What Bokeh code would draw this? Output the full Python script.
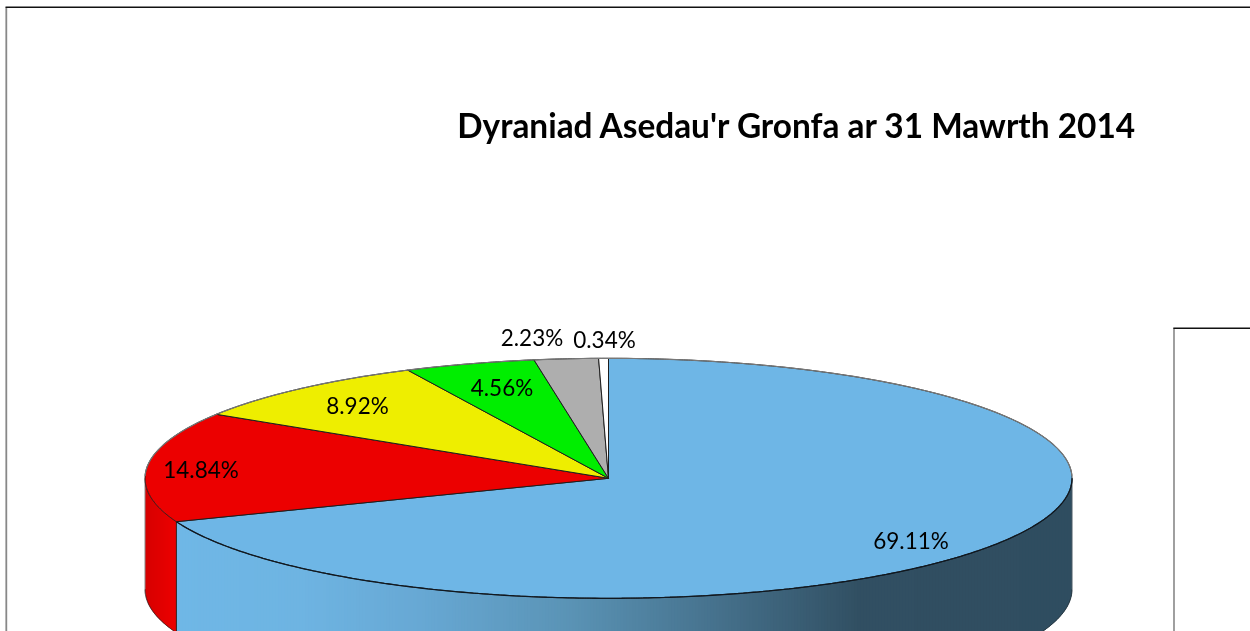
import numpy as np
from bokeh.plotting import figure
from bokeh.models import Range1d
from bokeh.core.properties import value
from bokeh.embed import file_html
from bokeh.resources import INLINE

TITLE = "Dyraniad Asedau'r Gronfa ar 31 Mawrth 2014"
shares = [69.11, 14.84, 8.92, 4.56, 2.23, 0.34]
labels = ["69.11%", "14.84%", "8.92%", "4.56%", "2.23%", "0.34%"]
colors = ["#6EB6E6", "#EC0000", "#EEEE00", "#00EE00", "#AEAEAE", "#FFFFFF"]
label_x = [910.5, 200.5, 357, 501.5, 531.5, 604]
label_y = [540, 469, 404.5, 387, 337, 338.5]

W, H = 1250, 631
CX, CY, RX, RY, DEPTH = 608.0, 477.8, 463.5, 120.0, 111.0
FONT = "Lato"

p = figure(width=W, height=H, output_backend="svg", toolbar_location=None,
           x_range=Range1d(0, W), y_range=Range1d(H, 0), min_border=0,
           outline_line_color=None, background_fill_color="white")
p.axis.visible = False
p.grid.visible = False
p.styles = {"position": "fixed", "left": "0px", "top": "0px"}


def pt(theta):
    return CX + RX * np.sin(theta), CY - RY * np.cos(theta)


edges = np.cumsum([0.0] + shares) / sum(shares) * 2 * np.pi


def lerp_hex(x, stops):
    xs = [s[0] for s in stops]
    out = []
    for k in range(3):
        out.append(int(round(np.interp(x, xs, [s[1][k] for s in stops]))))
    return "#%02X%02X%02X" % tuple(out)


blue_stops = [(176, (111, 183, 230)), (300, (110, 180, 226)), (420, (103, 168, 212)),
              (570, (90, 147, 181)), (700, (72, 117, 145)), (860, (49, 79, 98)), (1072, (47, 77, 96))]
red_stops = [(145, (214, 0, 0)), (176, (236, 0, 0))]

# Side wall, front part of the rim only. Each strip overlaps the next ones and is
# painted left to right so that no seams show between them.
for i, stops in ((0, blue_stops), (1, red_stops)):
    a0 = max(edges[i], np.pi / 2)
    a1 = min(edges[i + 1], 3 * np.pi / 2)
    x_a, x_b = sorted([pt(a0)[0], pt(a1)[0]])
    grid_x = np.append(np.arange(x_a, x_b, 3.0 if i == 0 else 1.5), x_b)
    for j in range(len(grid_x) - 1):
        xa, xb = grid_x[j], grid_x[min(j + 3, len(grid_x) - 1)]
        ta = np.pi - np.arcsin(np.clip((xa - CX) / RX, -1, 1))
        tb = np.pi - np.arcsin(np.clip((xb - CX) / RX, -1, 1))
        ex, ey = pt(np.linspace(ta, tb, 6))
        px = np.concatenate([ex, ex[::-1]])
        py = np.concatenate([ey, ey[::-1] + DEPTH])
        p.patch(px, py, fill_color=lerp_hex(grid_x[j] + 1.5, stops), line_color=None)
    bx, by = pt(np.linspace(a0, a1, 200))
    p.line(bx, by + DEPTH, line_color="#2A3A44" if i == 0 else "#333333", line_width=1)

# vertical wall edges
for a, lc in ((np.pi / 2, "#4A5A65"), (edges[1], "#2B2B2B"), (3 * np.pi / 2, "#888888")):
    x0, y0 = pt(a)
    p.line([x0, x0], [y0, y0 + DEPTH], line_color=lc, line_width=1)

# Top face: slices
for i, (c, s) in enumerate(zip(colors, shares)):
    t = np.linspace(edges[i], edges[i + 1], max(8, int(s * 12)))
    x, y = pt(t)
    xs = np.concatenate([[CX], x])
    ys = np.concatenate([[CY], y])
    p.patch(xs, ys, fill_color=c, line_color="#1E1E1E", line_width=1, line_join="round")

# Front rim is dark and heavy, back rim softer
x, y = pt(np.linspace(np.pi / 2, edges[1], 240))
p.line(x, y, line_color="#101820", line_width=1.3)
x, y = pt(np.linspace(-np.pi / 2 + 0.02, np.pi / 2 - 0.02, 200))
p.line(x, y, line_color="#777777", line_width=1.2)

# Frames
p.line([5.8, 5.8], [H, 7], line_color="#888888", line_width=1.8)
p.line([5, W], [6.8, 6.8], line_color="#111111", line_width=1.6)
p.line([1173.5, 1173.5], [H, 328], line_color="#888888", line_width=1.6)
p.line([1172.8, W], [327.8, 327.8], line_color="#111111", line_width=1.6)

p.text([797], [124.5], text=[TITLE], text_font=value(FONT), text_font_style="bold",
       text_font_size="33.4px", text_color="#000000", text_align="center", text_baseline="middle")
p.text(label_x, label_y, text=labels, text_font=value(FONT), text_font_size="22.5px",
       text_color="#000000", text_align="center", text_baseline="middle")

open("out.html", "w").write(file_html(p, INLINE))
